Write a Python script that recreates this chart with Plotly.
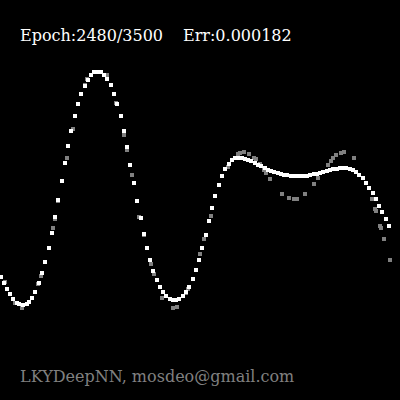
import plotly.graph_objects as go

# Network output (white) - pixel-space coordinates
out_x = [1, 4, 7, 10, 13, 17, 19, 23, 27, 29, 32, 35, 39, 42, 45, 49, 52, 55, 58, 62,
         65, 68, 71, 75, 78, 81, 85, 88, 91, 94, 98, 101, 104, 107, 111, 114, 117, 121, 124, 127,
         130, 134, 137, 141, 144, 147, 150, 153, 157, 160, 163, 166, 170, 173, 176, 179, 183, 186, 189, 193,
         196, 199, 202, 206, 209, 212, 215, 219, 222, 225, 229, 232, 235, 238, 242, 245, 248, 251, 255, 258,
         261, 265, 268, 271, 274, 278, 281, 284, 287, 291, 294, 297, 301, 304, 307, 310, 314, 317, 320, 323,
         327, 330, 333, 337, 340, 343, 346, 350, 353, 356, 359, 363, 366, 369, 373, 376, 379, 382, 386, 389]
out_y = [277, 283, 289, 294, 299, 303, 304, 305, 304, 302, 298, 292, 283, 273, 262, 248, 233, 217, 200, 181,
         163, 146, 131, 116, 104, 94, 86, 80, 75, 72, 72, 72, 75, 79, 85, 94, 104, 116, 131, 147,
         165, 183, 201, 218, 234, 248, 260, 271, 280, 287, 292, 296, 299, 300, 300, 299, 296, 292, 287, 279,
         270, 260, 248, 235, 221, 208, 196, 185, 176, 169, 164, 160, 158, 158, 158, 159, 160, 161, 163, 165,
         166, 168, 170, 171, 172, 173, 174, 175, 175, 176, 176, 176, 176, 176, 176, 175, 174, 174, 173, 172,
         171, 170, 169, 169, 168, 168, 168, 169, 170, 172, 175, 178, 183, 188, 193, 199, 206, 212, 219, 226]

# Training samples (gray)
data_x = [5, 15, 22, 38, 41, 53, 55, 58, 67, 73, 85, 87, 107, 116, 124, 127, 132, 139, 144, 151,
          154, 162, 173, 177, 186, 188, 200, 204, 211, 228, 238, 240, 244, 249, 254, 256, 260, 264, 266, 270,
          282, 289, 294, 297, 305, 314, 318, 328, 331, 333, 336, 341, 344, 354, 372, 375, 376, 380, 381, 384, 390]
data_y = [282, 303, 308, 284, 276, 228, 219, 201, 158, 129, 85, 79, 75, 103, 135, 150, 175, 217, 235, 264,
          274, 298, 308, 307, 293, 289, 254, 239, 216, 167, 154, 153, 152, 154, 158, 159, 164, 170, 173, 179,
          194, 198, 199, 199, 194, 184, 178, 165, 161, 158, 155, 153, 152, 158, 199, 209, 211, 226, 228, 239, 260]

title_left = "Epoch:2480/3500"
title_right = "Err:0.000182"
footer = "LKYDeepNN, mosdeo@gmail.com"

fig = go.Figure()
fig.add_trace(go.Scatter(x=data_x, y=data_y, mode="markers",
                         marker=dict(symbol="square", size=4, color="#808080", line=dict(width=0)),
                         hoverinfo="skip"))
fig.add_trace(go.Scatter(x=out_x, y=out_y, mode="markers",
                         marker=dict(symbol="square", size=4, color="#ffffff", line=dict(width=0)),
                         hoverinfo="skip"))

font_name = "DejaVu Serif"
fig.add_annotation(x=18, y=35, text=title_left, showarrow=False, xanchor="left", yanchor="middle",
                   font=dict(family=font_name, size=16, color="white"))
fig.add_annotation(x=181, y=35, text=title_right, showarrow=False, xanchor="left", yanchor="middle",
                   font=dict(family=font_name, size=16, color="white"))
fig.add_annotation(x=18, y=376, text=footer, showarrow=False, xanchor="left", yanchor="middle",
                   font=dict(family=font_name, size=16, color="#808080"))

fig.update_layout(
    width=400, height=400,
    margin=dict(l=0, r=0, t=0, b=0),
    paper_bgcolor="black", plot_bgcolor="black",
    showlegend=False,
    xaxis=dict(range=[0, 400], visible=False, fixedrange=True),
    yaxis=dict(range=[400, 0], visible=False, fixedrange=True),
)

fig.write_html("out.html", config={"displayModeBar": False})
